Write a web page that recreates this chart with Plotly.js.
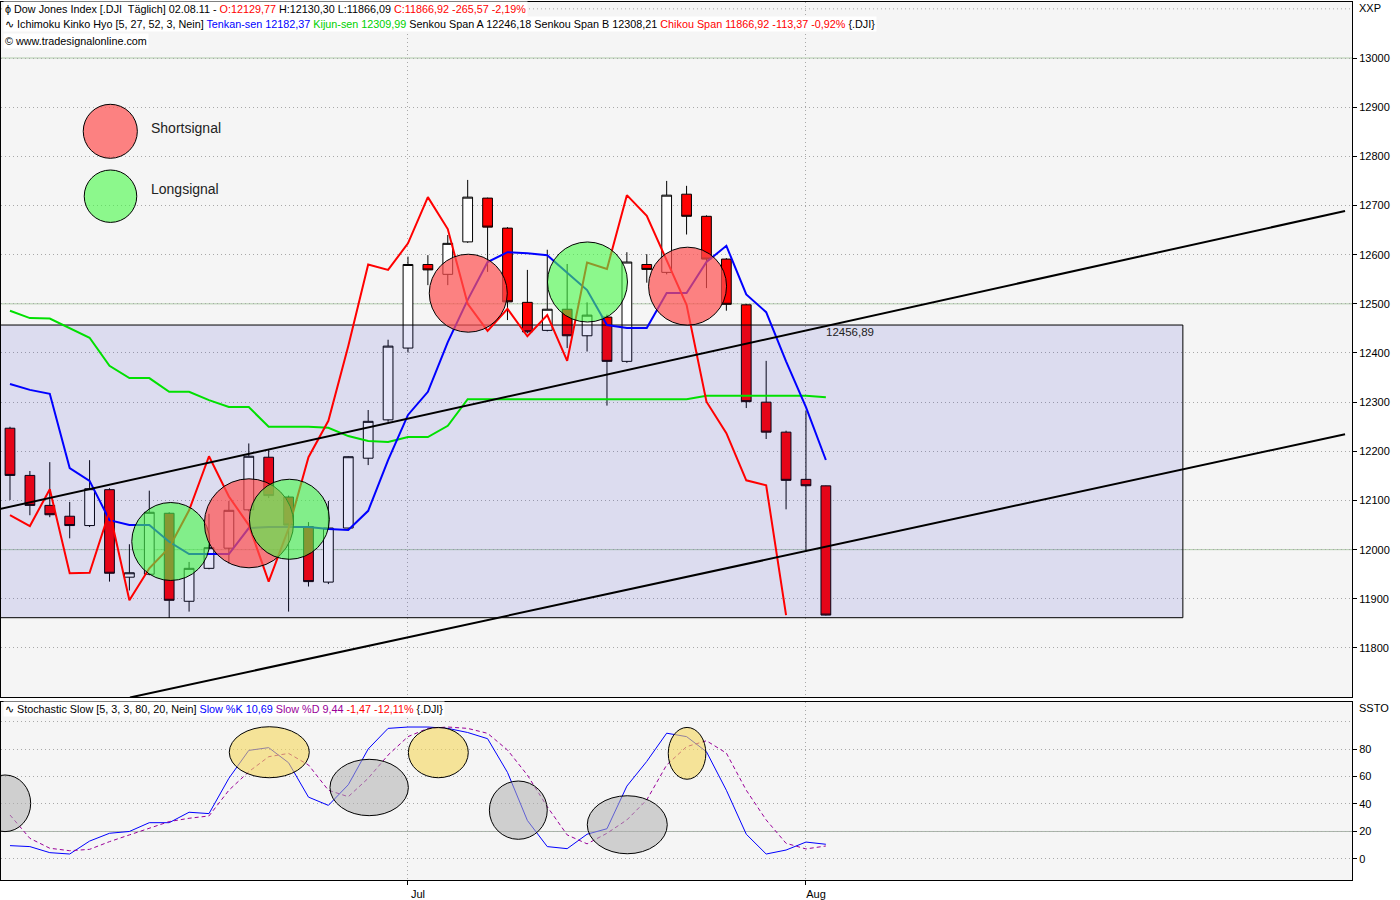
<!DOCTYPE html>
<html>
<head>
<meta charset="utf-8">
<script src="https://cdn.plot.ly/plotly-3.0.1.min.js"></script>
<style>
  html, body { margin: 0; padding: 0; background: #ffffff; }
  #chart { width: 1400px; height: 900px; }
</style>
</head>
<body>
<div id="chart"></div>
<script>
// Dow Jones Industrial Average, daily bars 03.06.2011 – 02.08.2011
const dates = ['2011-06-03','2011-06-06','2011-06-07','2011-06-08','2011-06-09','2011-06-10',
  '2011-06-13','2011-06-14','2011-06-15','2011-06-16','2011-06-17','2011-06-20','2011-06-21',
  '2011-06-22','2011-06-23','2011-06-24','2011-06-27','2011-06-28','2011-06-29','2011-06-30',
  '2011-07-01','2011-07-05','2011-07-06','2011-07-07','2011-07-08','2011-07-11','2011-07-12',
  '2011-07-13','2011-07-14','2011-07-15','2011-07-18','2011-07-19','2011-07-20','2011-07-21',
  '2011-07-22','2011-07-25','2011-07-26','2011-07-27','2011-07-28','2011-07-29','2011-08-01',
  '2011-08-02'];

const openP = [12247,12151,12090,12068,12049,12122,11944,11950,12074,11895,11962,12003,12081,
  12188,12107,12047,11934,12044,12186,12264,12410,12580,12560,12626,12715,12654,12503,12446,
  12489,12435,12473,12383,12580,12564,12723,12678,12591,12498,12300,12239,12143,12129.77];
const highP = [12250,12160,12178,12097,12182,12125,12011,12120,12076,11975,12073,12099,12216,
  12204,12110,12056,12099,12190,12284,12427,12596,12599,12640,12752,12716,12656,12569,12610,
  12581,12503,12478,12605,12601,12750,12740,12680,12593,12500,12384,12242,12282,12130.30];
const lowP = [12101,12070,12066,12023,12046,11935,11917,11948,11861,11874,11960,11972,12078,
  12105,11874,11925,11930,12040,12172,12260,12401,12538,12538,12624,12565,12467,12440,12444,
  12410,12403,12293,12380,12543,12560,12641,12532,12486,12288,12225,12082,11996,11866.09];
const closeP = [12151,12090,12071,12049,12124,11952,11953,12076,11897,11962,12004,12080,12190,
  12110,12050,11935,12044,12189,12261,12414,12580,12569,12623,12717,12656,12504,12443,12489,
  12435,12477,12383,12585,12570,12721,12678,12591,12499,12301,12239,12141,12130,11866.92];

// Ichimoku Kinko Hyo lines
const tenkan = [12337,12325,12317,12166,12140,12060,12050,12050,12016,11991,11991,11991,12044,
  12046,12046,12046,12042,12040,12079,12182,12274,12321,12422,12508,12585,12605,12603,12599,
  12563,12528,12457,12451,12451,12522,12522,12585,12618,12519,12483,12383,12290,12182.37];
const kijun = [12486,12471,12470,12451,12431,12374,12349,12349,12321,12321,12304,12290,12290,
  12250,12250,12250,12248,12231,12221,12219,12229,12229,12252,12306,12306,12306,12306,12306,
  12306,12306,12306,12306,12306,12306,12306,12313,12313,12313,12313,12313,12313,12309.99];
const chikou = [12070,12048,12123,11952,11953,12078,11897,11962,12004,12080,12190,12108,12050,
  11935,12043,12188,12262,12414,12580,12569,12623,12717,12652,12500,12445,12490,12434,12477,
  12384,12584,12571,12721,12679,12590,12498,12301,12237,12141,12131,11866.92];

// Stochastic Slow
const slowK = [9.7,9,4.6,3.6,13,18.7,20,26.4,26.4,34,33,58.7,79,81,70,45,39,54,80,95,96,96,95,
  92,87.5,63,28,9,7.5,18,22,53,71,91.5,89,78,50,18,3.6,6.5,12.3,10.69];
const slowD = [32,15,7.8,6,7,12.6,17.5,22.3,27.2,29.6,31.3,50,63.5,74.4,76.8,68.4,50,45.3,58.7,
  75.6,89,95,96,95,91.4,79.3,61,38,17.5,11,18.7,28.4,43,68.4,81.7,86,77,50,28.4,11.4,7.3,9.44];

// Axis labels
const priceTicks = [11800,11900,12000,12100,12200,12300,12400,12500,12600,12700,12800,12900,13000];
const stochTicks = [0,20,40,60,80];
const monthTickDates = ['2011-07-01','2011-08-01'];
const monthTickText = ['Jul','Aug'];

// ---------------------------------------------------------------------------
const bar = dates.map((d, i) => i);
const monthTickPos = monthTickDates.map(d => dates.indexOf(d));

const FONT = 'Liberation Sans, Arial, sans-serif';
const M = { l: 1, r: 48, t: 2, b: 20 };
const W = 1400, H = 900;
const plotW = W - M.l - M.r, plotH = H - M.t - M.b;
const px = x => (x - M.l) / plotW;          // page pixel -> paper x
const py = y => (H - M.b - y) / plotH;      // page pixel -> paper y

const xRange = [-0.452, 67.44];
const priceRange = [11700.3, 13113.9];
const stochRange = [-15.3, 114.2];

// Drawing objects
const zone = { x0: -1, x1: 58.94, top: 12456.89, bottom: 11861.6 };
const channel = [
  { x0: -0.503, y0: 12082.7, x1: 67.09, y1: 12688.8 },
  { x0: 6.03,   y0: 11699.3, x1: 67.09, y1: 12234.8 }
];
const SHORT_FILL = 'rgba(255,80,80,0.70)';
const LONG_FILL = 'rgba(70,250,70,0.60)';
const signals = [
  { kind: 'long',  x0: 6.12,  x1: 10.04, y0: 11937.3, y1: 12095.9 },
  { kind: 'short', x0: 9.77,  x1: 14.25, y0: 11963.1, y1: 12144.1 },
  { kind: 'long',  x0: 12.03, x1: 16.05, y0: 11980.4, y1: 12143.2 },
  { kind: 'short', x0: 21.07, x1: 24.99, y0: 12442.3, y1: 12600.9 },
  { kind: 'long',  x0: 27.01, x1: 31.03, y0: 12463.0, y1: 12625.8 },
  { kind: 'short', x0: 32.09, x1: 36.01, y0: 12456.6, y1: 12615.2 }
];
const legendMarks = [
  { kind: 'short', x0: 3.68, x1: 6.40, y0: 12796.0, y1: 12905.8, label: 'Shortsignal', ly: 12857 },
  { kind: 'long',  x0: 3.73, x1: 6.37, y0: 12665.6, y1: 12772.2, label: 'Longsignal',  ly: 12733 }
];
const YELLOW = 'rgba(245,215,90,0.60)';
const GREY = 'rgba(175,175,175,0.55)';
const stochMarks = [
  { fill: GREY,   x0: -1.54, x1: 1.04,  y0: 19.9, y1: 61.1 },
  { fill: YELLOW, x0: 11.02, x1: 15.04, y0: 59.1, y1: 96.2 },
  { fill: GREY,   x0: 16.08, x1: 20.02, y0: 31.5, y1: 72.5 },
  { fill: YELLOW, x0: 20.02, x1: 23.03, y0: 59.1, y1: 95.7 },
  { fill: GREY,   x0: 24.09, x1: 27.0,  y0: 14.3, y1: 56.7 },
  { fill: GREY,   x0: 29.01, x1: 33.03, y0: 3.8,  y1: 46.0 },
  { fill: YELLOW, x0: 33.08, x1: 34.97, y0: 58.0, y1: 95.7 }
];

// ---------------------------------------------------------------------------
const traces = [
  {
    type: 'candlestick', x: bar, open: openP, high: highP, low: lowP, close: closeP,
    xaxis: 'x', yaxis: 'y', whiskerwidth: 0, hoverinfo: 'skip', showlegend: false,
    increasing: { line: { color: '#000000', width: 1 }, fillcolor: '#ffffff' },
    decreasing: { line: { color: '#000000', width: 1 }, fillcolor: '#ff0000' }
  },
  {
    type: 'scatter', mode: 'lines', xaxis: 'x', yaxis: 'y', hoverinfo: 'skip', showlegend: false,
    x: [zone.x0, zone.x1, zone.x1, zone.x0, zone.x0],
    y: [zone.top, zone.top, zone.bottom, zone.bottom, zone.top],
    fill: 'toself', fillcolor: 'rgba(40,40,200,0.12)', line: { color: '#000000', width: 1 }
  },
  { type: 'scatter', mode: 'lines', x: bar, y: kijun, xaxis: 'x', yaxis: 'y',
    line: { color: '#00e000', width: 2 }, hoverinfo: 'skip', showlegend: false },
  { type: 'scatter', mode: 'lines', x: bar, y: tenkan, xaxis: 'x', yaxis: 'y',
    line: { color: '#0000ff', width: 2 }, hoverinfo: 'skip', showlegend: false },
  { type: 'scatter', mode: 'lines', x: bar.slice(0, chikou.length), y: chikou, xaxis: 'x', yaxis: 'y',
    line: { color: '#ff0000', width: 2 }, hoverinfo: 'skip', showlegend: false },
  { type: 'scatter', mode: 'lines', x: bar, y: slowK, xaxis: 'x2', yaxis: 'y2',
    line: { color: '#0000ff', width: 1 }, hoverinfo: 'skip', showlegend: false },
  { type: 'scatter', mode: 'lines', x: bar, y: slowD, xaxis: 'x2', yaxis: 'y2',
    line: { color: '#990099', width: 1, dash: '4px,3px' }, hoverinfo: 'skip', showlegend: false }
];

const DOTS = '1px,3px';
const shapes = [];
// solid guide levels
[12000, 12500, 13000].forEach(v => shapes.push({
  type: 'line', xref: 'paper', yref: 'y', x0: 0, x1: 1, y0: v, y1: v, layer: 'below',
  line: { color: '#b0ccaa', width: 1 }
}));
shapes.push({ type: 'line', xref: 'paper', yref: 'y', x0: 0, x1: 1, y0: 13100, y1: 13100, layer: 'below',
  line: { color: '#a8a8a8', width: 1, dash: DOTS } });
shapes.push({ type: 'line', xref: 'paper', yref: 'y2', x0: 0, x1: 1, y0: 20, y1: 20, layer: 'below',
  line: { color: '#a8b4a8', width: 1 } });
shapes.push({ type: 'line', xref: 'paper', yref: 'y2', x0: 0, x1: 1, y0: 100, y1: 100, layer: 'below',
  line: { color: '#a8a8a8', width: 1, dash: DOTS } });
// trend channel
channel.forEach(c => shapes.push({
  type: 'line', xref: 'x', yref: 'y', x0: c.x0, y0: c.y0, x1: c.x1, y1: c.y1, layer: 'above',
  line: { color: '#000000', width: 2 }
}));
// signal markers
signals.concat(legendMarks).forEach(s => shapes.push({
  type: 'circle', xref: 'x', yref: 'y', x0: s.x0, x1: s.x1, y0: s.y0, y1: s.y1, layer: 'above',
  fillcolor: s.kind === 'short' ? SHORT_FILL : LONG_FILL, line: { color: '#000000', width: 1 }
}));
stochMarks.forEach(s => shapes.push({
  type: 'circle', xref: 'x2', yref: 'y2', x0: s.x0, x1: s.x1, y0: s.y0, y1: s.y1, layer: 'above',
  fillcolor: s.fill, line: { color: '#000000', width: 1 }
}));

const span = (c, t) => `<span style="color:${c}">${t}</span>`;
const HEAD_SIZE = 10.8;
const header = (text, y) => ({
  xref: 'paper', yref: 'paper', x: px(3), y: py(y), xanchor: 'left', yanchor: 'middle',
  text, showarrow: false, bgcolor: '#ffffff', borderpad: 1,
  font: { family: FONT, size: HEAD_SIZE, color: '#000000' }
});

const annotations = [
  header('ϕ Dow Jones Index [.DJI  Täglich] 02.08.11 - ' + span('#ff0000', 'O:12129,77') +
    ' H:12130,30 L:11866,09 ' + span('#ff0000', 'C:11866,92 -265,57 -2,19%'), 9),
  header('∿ Ichimoku Kinko Hyo [5, 27, 52, 3, Nein] ' + span('#0000ff', 'Tenkan-sen 12182,37') + ' ' +
    span('#00d000', 'Kijun-sen 12309,99') + ' Senkou Span A 12246,18 Senkou Span B 12308,21 ' +
    span('#ff0000', 'Chikou Span 11866,92 -113,37 -0,92%') + ' {.DJI}', 24),
  header('© www.tradesignalonline.com', 41),
  header('∿ Stochastic Slow [5, 3, 3, 80, 20, Nein] ' + span('#0000ff', 'Slow %K 10,69') + ' ' +
    span('#990099', 'Slow %D 9,44') + ' ' + span('#ff0000', '-1,47 -12,11%') + ' {.DJI}', 709),
  { xref: 'paper', yref: 'paper', x: px(1357), y: py(8), xanchor: 'left', yanchor: 'middle',
    text: 'XXP', showarrow: false, font: { family: FONT, size: 11, color: '#000000' } },
  { xref: 'paper', yref: 'paper', x: px(1357), y: py(708), xanchor: 'left', yanchor: 'middle',
    text: 'SSTO', showarrow: false, font: { family: FONT, size: 11, color: '#000000' } },
  { xref: 'x', yref: 'y', x: 40.9, y: zone.top, xanchor: 'left', yanchor: 'top', yshift: 1,
    text: '12456,89', showarrow: false, font: { family: FONT, size: 11.5, color: '#222222' } }
];
legendMarks.forEach(m => annotations.push({
  xref: 'x', yref: 'y', x: 7.0, y: m.ly, xanchor: 'left', yanchor: 'middle', text: m.label,
  showarrow: false, font: { family: FONT, size: 14, color: '#222222' }
}));

const gridCol = '#a8a8a8';
const baseAxis = {
  showgrid: true, gridcolor: gridCol, griddash: DOTS, gridwidth: 1,
  showline: true, linecolor: '#000000', linewidth: 1, mirror: true, zeroline: false,
  fixedrange: true
};
const layout = {
  width: W, height: H, margin: { l: M.l, r: M.r, t: M.t, b: M.b, pad: 0 },
  paper_bgcolor: '#ffffff', plot_bgcolor: '#f5f5f5',
  showlegend: false, hovermode: false, dragmode: false,
  font: { family: FONT, size: 11, color: '#000000' },
  xaxis: Object.assign({}, baseAxis, {
    type: 'linear', domain: [0, 1], anchor: 'y', range: xRange,
    tickvals: monthTickPos, showticklabels: false, ticks: '',
    rangeslider: { visible: false }
  }),
  xaxis2: Object.assign({}, baseAxis, {
    type: 'linear', domain: [0, 1], anchor: 'y2', matches: 'x', range: xRange,
    tickvals: monthTickPos, ticktext: monthTickText, ticks: 'outside', ticklen: 4,
    tickcolor: '#000000', ticklabelshift: 10, tickfont: { family: FONT, size: 11 }
  }),
  yaxis: Object.assign({}, baseAxis, {
    domain: [py(697), 1], anchor: 'x', side: 'right', range: priceRange,
    tickvals: priceTicks, tickformat: 'd', ticks: 'outside', ticklen: 4, tickcolor: '#000000',
    tickfont: { family: FONT, size: 11 }
  }),
  yaxis2: Object.assign({}, baseAxis, {
    domain: [0, py(702)], anchor: 'x2', side: 'right', range: stochRange,
    tickvals: stochTicks, tickformat: 'd', ticks: 'outside', ticklen: 4, tickcolor: '#000000',
    tickfont: { family: FONT, size: 11 }
  }),
  shapes, annotations
};

Plotly.newPlot('chart', traces, layout, { staticPlot: true, displayModeBar: false });
</script>
</body>
</html>
